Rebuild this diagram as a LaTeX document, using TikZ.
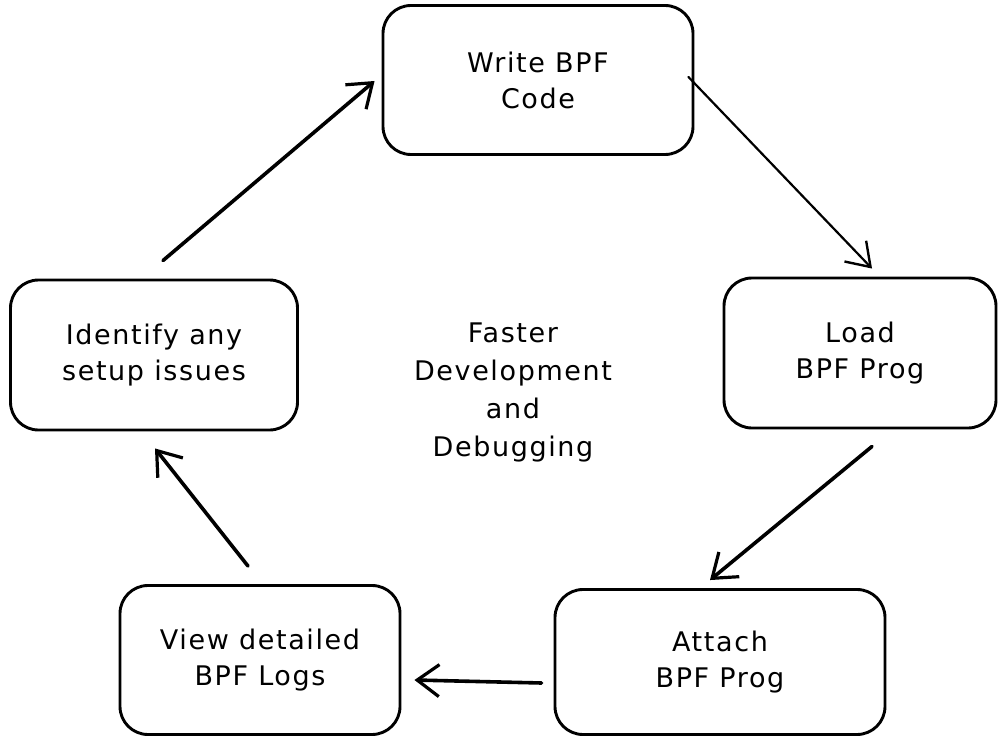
\documentclass[tikz,border=0pt]{standalone}
\usepackage{fontspec}
\setmainfont[LetterSpace=6]{DejaVu Sans}
\usetikzlibrary{arrows.meta}
\begin{document}
\begin{tikzpicture}[x=1pt,y=1pt,
  box/.style={draw=black, line width=2.9pt, rounded corners=28pt, align=center,
    font=\fontsize{27}{36}\selectfont, inner sep=0pt},
  lbl/.style={align=center, font=\fontsize{27}{38}\selectfont, inner sep=0pt},
  conn/.style={line width=3.6pt, line cap=round, -{Straight Barb[length=22pt,width=32pt,line width=3.2pt]}},
  thinconn/.style={line width=2.2pt, line cap=round, -{Straight Barb[length=22pt,width=30pt,line width=2.4pt]}}]
\useasboundingbox (0,0) rectangle (998,-738);
\node[box, minimum width=310pt, minimum height=149pt] (w) at (538,-80) {Write BPF\\Code};
\node[box, minimum width=272pt, minimum height=150pt] (l) at (860,-353) {Load\\BPF Prog};
\node[box, minimum width=330pt, minimum height=145pt] (a) at (720,-662) {Attach\\BPF Prog};
\node[box, minimum width=280pt, minimum height=149pt] (v) at (260,-660) {View detailed\\BPF Logs};
\node[box, minimum width=287pt, minimum height=150pt] (i) at (154,-355) {Identify any\\setup issues};
\node[lbl] (c) at (513,-392) {Faster\\Development\\and\\Debugging};
\draw[thinconn] ([shift={(-6,3)}]w.east) -- ([shift={(12,8)}]l.north);
\draw[conn] ([shift={(12,-17)}]l.south) -- ([shift={(-10,8)}]a.north);
\draw[conn] ([shift={(-12,-21)}]a.west) -- ([shift={(13,-20)}]v.east);
\draw[conn] ([shift={(-12,18)}]v.north) -- ([shift={(1,-17)}]i.south);
\draw[conn] ([shift={(9,18)}]i.north) -- ([shift={(-7,-1)}]w.west);
\end{tikzpicture}
\end{document}
